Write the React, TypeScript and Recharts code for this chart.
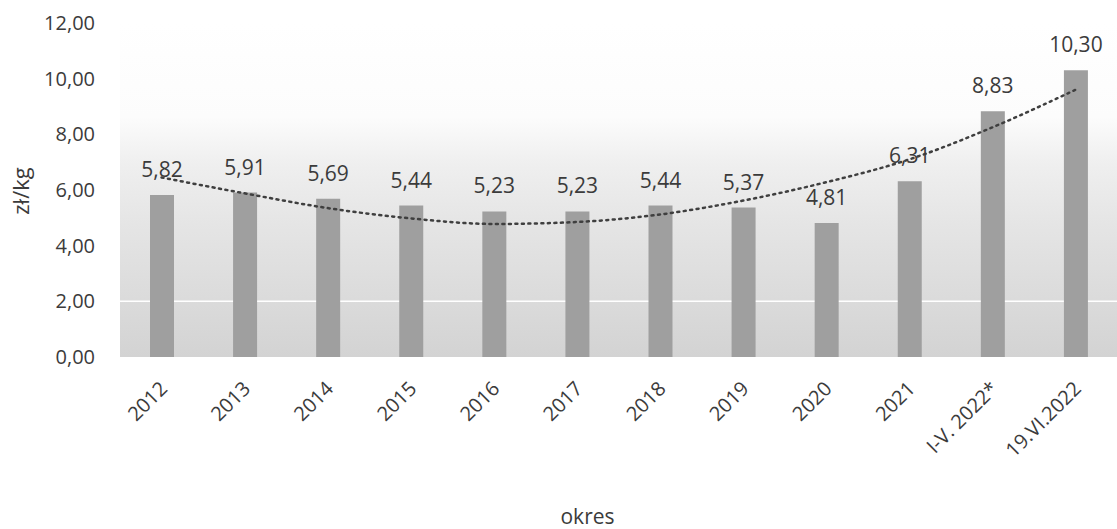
import React from 'react';
import {
  ComposedChart,
  Bar,
  Line,
  XAxis,
  YAxis,
  CartesianGrid,
  LabelList,
  Label,
} from 'recharts';

// Average price per period (zł/kg)
const categories = [
  '2012', '2013', '2014', '2015', '2016', '2017',
  '2018', '2019', '2020', '2021', 'I-V. 2022*', '19.VI.2022',
];
const prices = [5.82, 5.91, 5.69, 5.44, 5.23, 5.23, 5.44, 5.37, 4.81, 6.31, 8.83, 10.3];
// Polynomial trend line, sampled at each period
const trend = [6.45, 5.88, 5.35, 4.98, 4.78, 4.85, 5.12, 5.62, 6.28, 7.1, 8.25, 9.6];
const yTicks = [0, 2, 4, 6, 8, 10, 12];
// Only the 2,00 grid line shows over the shaded background
const gridValues = [2];

const data = categories.map((c, i) => ({ okres: c, cena: prices[i], trend: trend[i] }));

const FONT = '"Open Sans", sans-serif';
const TEXT = '#3b3b3b';

const fmt = (v: number) => v.toFixed(2).replace('.', ',');

const XTick = (props: any) => {
  const { x, y, payload } = props;
  const tx = x + 7;
  const ty = y + 33;
  return (
    <text
      x={tx}
      y={ty}
      transform={`rotate(-45 ${tx} ${ty})`}
      textAnchor="end"
      fontFamily={FONT}
      fontSize={20}
      fill={TEXT}
    >
      {payload.value}
    </text>
  );
};

export default function App() {
  return (
    <div style={{ position: 'fixed', left: 0, top: 0, background: '#fff' }}>
      <ComposedChart
        width={1117}
        height={529}
        data={data}
        margin={{ top: 23, right: 0, bottom: 0, left: 0 }}
      >
        <defs>
          <linearGradient id="plotBg" x1="0" y1="0" x2="0" y2="1">
            <stop offset="0" stopColor="#ffffff" />
            <stop offset="0.28" stopColor="#fcfcfc" />
            <stop offset="0.42" stopColor="#efefef" />
            <stop offset="0.6" stopColor="#e5e5e5" />
            <stop offset="0.8" stopColor="#dcdcdc" />
            <stop offset="1" stopColor="#d3d3d3" />
          </linearGradient>
        </defs>
        <CartesianGrid
          vertical={false}
          horizontalValues={gridValues}
          stroke="#ffffff"
          strokeWidth={1.5}
          fill="url(#plotBg)"
          fillOpacity={1}
        />
        <XAxis
          dataKey="okres"
          axisLine={false}
          tickLine={false}
          tickSize={0}
          tickMargin={0}
          interval={0}
          height={172}
          tick={<XTick />}
        >
          <Label
            content={(p: any) => {
              const vb = p.viewBox;
              return (
                <text
                  x={vb.x + vb.width / 2 - 31}
                  y={vb.y + 167}
                  textAnchor="middle"
                  fontFamily={FONT}
                  fontSize={21}
                  fill={TEXT}
                >
                  okres
                </text>
              );
            }}
          />
        </XAxis>
        <YAxis
          domain={[0, 12]}
          ticks={yTicks}
          width={120}
          axisLine={false}
          tickLine={false}
          tickSize={0}
          tickMargin={25}
          tickFormatter={fmt}
          tick={{ fontFamily: FONT, fontSize: 20, fill: TEXT }}
        >
          <Label
            content={() => (
              <text
                x={29}
                y={191}
                transform="rotate(-90 29 191)"
                textAnchor="middle"
                fontFamily={FONT}
                fontSize={22}
                fill={TEXT}
              >
                zł/kg
              </text>
            )}
          />
        </YAxis>
        <Line
          dataKey="trend"
          type="monotone"
          stroke="#3f3f3f"
          strokeWidth={2.5}
          strokeDasharray="2 4.5"
          strokeLinecap="round"
          dot={false}
          activeDot={false}
          isAnimationActive={false}
        />
        <Bar dataKey="cena" fill="#9f9f9f" barSize={24} isAnimationActive={false}>
          <LabelList
            dataKey="cena"
            position="top"
            offset={18}
            formatter={(v: any) => fmt(Number(v))}
            style={{ fontFamily: FONT, fontSize: 21, fill: TEXT }}
          />
        </Bar>
      </ComposedChart>
    </div>
  );
}
